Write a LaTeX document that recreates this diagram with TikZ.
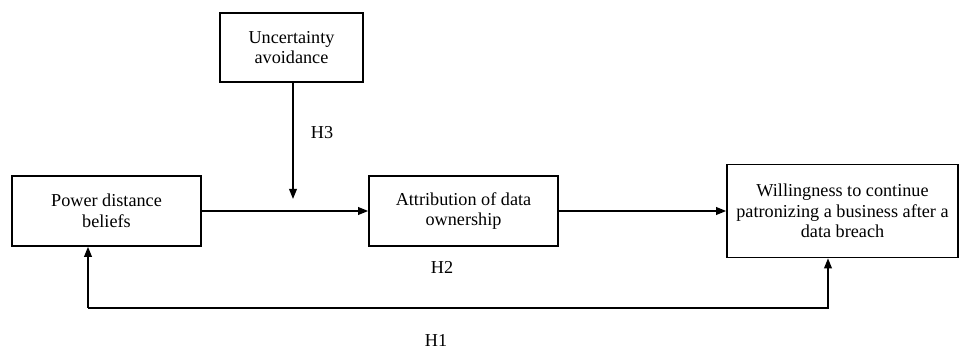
\documentclass[tikz,border=0pt]{standalone}
\usepackage{fontspec}
\setmainfont{Liberation Serif}
\usetikzlibrary{arrows.meta}

\begin{document}
\begin{tikzpicture}[x=0.5pt, y=-0.5pt, line width=0.8pt,
    every node/.style={font=\fontsize{9.1}{10.3}\selectfont},
    factor/.style={draw, align=center, inner sep=2pt},
    path/.style={-{Triangle[length=5pt,width=3.8pt]}},
    hyp/.style={inner sep=0pt}]
    \useasboundingbox (0,0) rectangle (960,352);
    % constructs
    \node[factor, minimum width=94.5pt, minimum height=35pt] (pdb) at (106.5,211) {Power distance\\beliefs};
    \node[factor, minimum width=71.5pt, minimum height=34.5pt] (ua) at (291.5,47.5) {Uncertainty\\avoidance};
    \node[factor, minimum width=94.5pt, minimum height=35pt] (ado) at (463.5,211) {Attribution of data\\ownership};
    \node[factor, minimum width=115.5pt, minimum height=46.5pt] (will) at (842.5,211) {Willingness to continue\\patronizing a business after a\\data breach};
    % helper points
    \coordinate (mod) at (293,199);
    \coordinate (h1l) at (88,308);
    \coordinate (h1r) at (828,308);
    % paths
    \draw[path] (pdb) -- (ado);
    \draw[path] (ado) -- (will);
    \draw[path] (ua.south -| mod) -- (mod);
    \draw[path] (h1l) -- (pdb.south -| h1l);
    \draw[path] (h1l) -- (h1r) -- (will.south -| h1r);
    % hypotheses
    \node[hyp] (h3) at (322,133) {H3};
    \node[hyp] (h2) at (442,267) {H2};
    \node[hyp] (h1) at (436,340) {H1};
\end{tikzpicture}
\end{document}
